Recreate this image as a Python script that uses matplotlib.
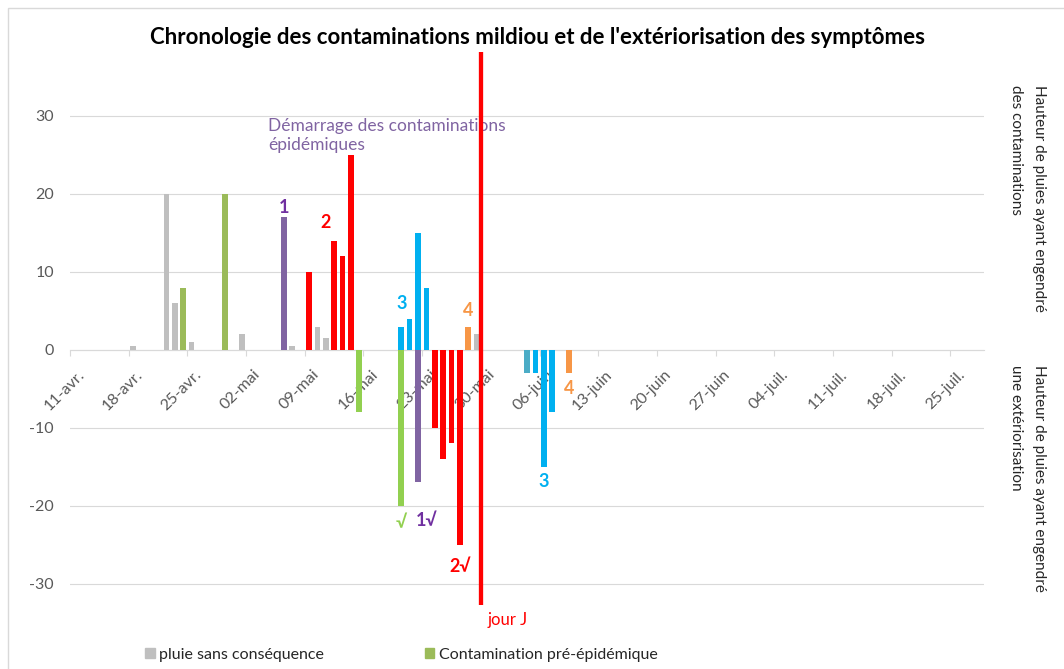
import matplotlib.pyplot as plt
from matplotlib.patches import Patch, Rectangle
from matplotlib.transforms import ScaledTranslation
import pandas as pd

plt.rcParams['font.family'] = ['Lato', 'DejaVu Sans']
plt.rcParams['axes.unicode_minus'] = False

start = pd.Timestamp("2016-04-11")
week_labels = ["11-avr.", "18-avr.", "25-avr.", "02-mai", "09-mai", "16-mai", "23-mai",
               "30-mai", "06-juin", "13-juin", "20-juin", "27-juin", "04-juil.",
               "11-juil.", "18-juil.", "25-juil."]

# rain without consequence
pluie_dates = ["2016-04-18", "2016-04-22", "2016-04-23", "2016-04-25", "2016-05-01",
               "2016-05-07", "2016-05-10", "2016-05-11", "2016-05-29"]
pluie_mm = [0.5, 20, 6, 1, 2, 0.5, 3, 1.5, 2]

# pre-epidemic contaminations (+) and their symptoms (-)
pre_cont_dates = ["2016-04-24", "2016-04-29"]
pre_cont_mm = [8, 20]
pre_ext_dates = ["2016-05-15", "2016-05-20"]
pre_ext_mm = [-8, -20]

# epidemic contaminations 1..4 and their expression
c1_dates = ["2016-05-06"]
c1_mm = [17]
e1_dates = ["2016-05-22"]
e1_mm = [-17]

c2_dates = ["2016-05-09", "2016-05-12", "2016-05-13", "2016-05-14"]
c2_mm = [10, 14, 12, 25]
e2_dates = ["2016-05-24", "2016-05-25", "2016-05-26", "2016-05-27"]
e2_mm = [-10, -14, -12, -25]

c3_dates = ["2016-05-20", "2016-05-21", "2016-05-22", "2016-05-23"]
c3_mm = [3, 4, 15, 8]
e3_dates = ["2016-06-04", "2016-06-05", "2016-06-06", "2016-06-07"]
e3_mm = [-3, -3, -15, -8]

c4_dates = ["2016-05-28"]
c4_mm = [3]
e4_dates = ["2016-06-09"]
e4_mm = [-3]

jour_j = "2016-05-30"
jour_j_range = [-32.7, 38.2]


def days(dates):
    return [(pd.Timestamp(d) - start).days + 0.5 for d in dates]


fig = plt.figure(figsize=(10.64, 6.69), dpi=100)
ax = fig.add_axes([70 / 1064, 1 - 654 / 669, 914 / 1064, (654 - 49.7) / 669])

W = 0.68
GREY, GREEN, LGREEN = '#BFBFBF', '#9BBB59', '#92D050'
PURPLE, RED, BLUE, TEAL, ORANGE = '#8064A2', '#FF0000', '#00B0F0', '#4BACC6', '#F79646'
TXT = '#595959'

ax.bar(days(pluie_dates), pluie_mm, W, color=GREY, zorder=3)
ax.bar(days(pre_cont_dates), pre_cont_mm, W, color=GREEN, zorder=3)
ax.bar(days(pre_ext_dates), pre_ext_mm, W, color=LGREEN, zorder=3)
ax.bar(days(c1_dates), c1_mm, W, color=PURPLE, zorder=3)
ax.bar(days(e1_dates), e1_mm, W, color=PURPLE, zorder=3)
ax.bar(days(c2_dates), c2_mm, W, color=RED, zorder=3)
ax.bar(days(e2_dates), e2_mm, W, color=RED, zorder=3)
ax.bar(days(c3_dates), c3_mm, W, color=BLUE, zorder=3)
ax.bar(days(e3_dates), e3_mm, W, color=[TEAL, BLUE, BLUE, BLUE], zorder=3)
ax.bar(days(c4_dates), c4_mm, W, color=ORANGE, zorder=3)
ax.bar(days(e4_dates), e4_mm, W, color=ORANGE, zorder=3)

jx = (pd.Timestamp(jour_j) - start).days
ax.vlines(jx, jour_j_range[0], jour_j_range[1], color=RED, lw=3.1, zorder=4)

ax.set_xlim(0, 109)
ax.set_ylim(-39, 38.5)

# axes styling
for s in ["left", "top", "right"]:
    ax.spines[s].set_visible(False)
ax.spines["bottom"].set_position(("data", 0))
ax.spines["bottom"].set_color('#D9D9D9')
ax.set_yticks([-30, -20, -10, 0, 10, 20, 30])
ax.tick_params(axis='y', length=0, pad=11.5, labelsize=11.5, labelcolor=TXT)
ax.yaxis.grid(True, color='#D9D9D9', lw=0.8, zorder=0)
ax.set_xticks(range(0, 106, 7))
ax.set_xticklabels(week_labels, rotation=45, ha='right', va='center',
                   rotation_mode='anchor', fontsize=11.5, color=TXT)
ax.tick_params(axis='x', length=4, width=0.8, color='#D9D9D9', pad=2)
off = ScaledTranslation(12 / 100, -14 / 100, fig.dpi_scale_trans)
for lab in ax.get_xticklabels():
    lab.set_transform(lab.get_transform() + off)

# data labels
labels = [
    (c1_dates[0], 18.3, "1", '#7030A0'),
    ("2016-05-11", 16.4, "2", RED),
    (c3_dates[0], 6.0, "3", BLUE),
    (c4_dates[0], 5.1, "4", ORANGE),
    (e3_dates[2], -16.9, "3", BLUE),
    (e4_dates[0], -4.9, "4", ORANGE),
    (pre_ext_dates[1], -22.2, "√", LGREEN),
    ("2016-05-23", -21.9, "1√", '#7030A0'),
    (e2_dates[3], -27.8, "2√", RED),
]
for d, y, t, c in labels:
    ax.text(days([d])[0], y, t, color=c, fontsize=13, fontweight='bold',
            ha='center', va='center', zorder=5)
ax.text(52.2, -34.6, "jour J", color=RED, fontsize=12, ha='center', va='center')
ax.text(23.6, 29.8, "Démarrage des contaminations\népidémiques", color=PURPLE,
        fontsize=12.5, ha='left', va='top', linespacing=1.3)

fig.text(537 / 1064, 1 - 38 / 669,
         "Chronologie des contaminations mildiou et de l'extériorisation des symptômes",
         ha='center', va='center', fontsize=16, fontweight='bold')

fig.text(1027.5 / 1064, 1 - 85 / 669, "Hauteur de pluies ayant engendré\ndes contaminations",
         rotation=270, ha='center', va='top', multialignment='left', fontsize=11,
         color='#262626', linespacing=1.9)
fig.text(1027.5 / 1064, 1 - 365 / 669, "Hauteur de pluies ayant engendré\nune extériorisation",
         rotation=270, ha='center', va='top', multialignment='left', fontsize=11,
         color='#262626', linespacing=1.9)

handles = [Patch(color=GREY, label="pluie sans conséquence"),
           Patch(color=GREEN, label="Contamination pré-épidémique")]
fig.legend(handles=handles, loc='center', bbox_to_anchor=(401.5 / 1064, 1 - 655 / 669),
           ncol=2, frameon=False, fontsize=11.5, handlelength=0.6, handleheight=0.6,
           handletextpad=0.3, columnspacing=6.3, borderaxespad=0, labelcolor='#262626')

# chart frame
fig.patches.append(Rectangle((8 / 1064, -0.05), 1.1, 1 - 8 / 669 + 0.05,
                             transform=fig.transFigure, fill=False,
                             edgecolor='#D9D9D9', lw=1))
fig.savefig("out.png", dpi=100)
